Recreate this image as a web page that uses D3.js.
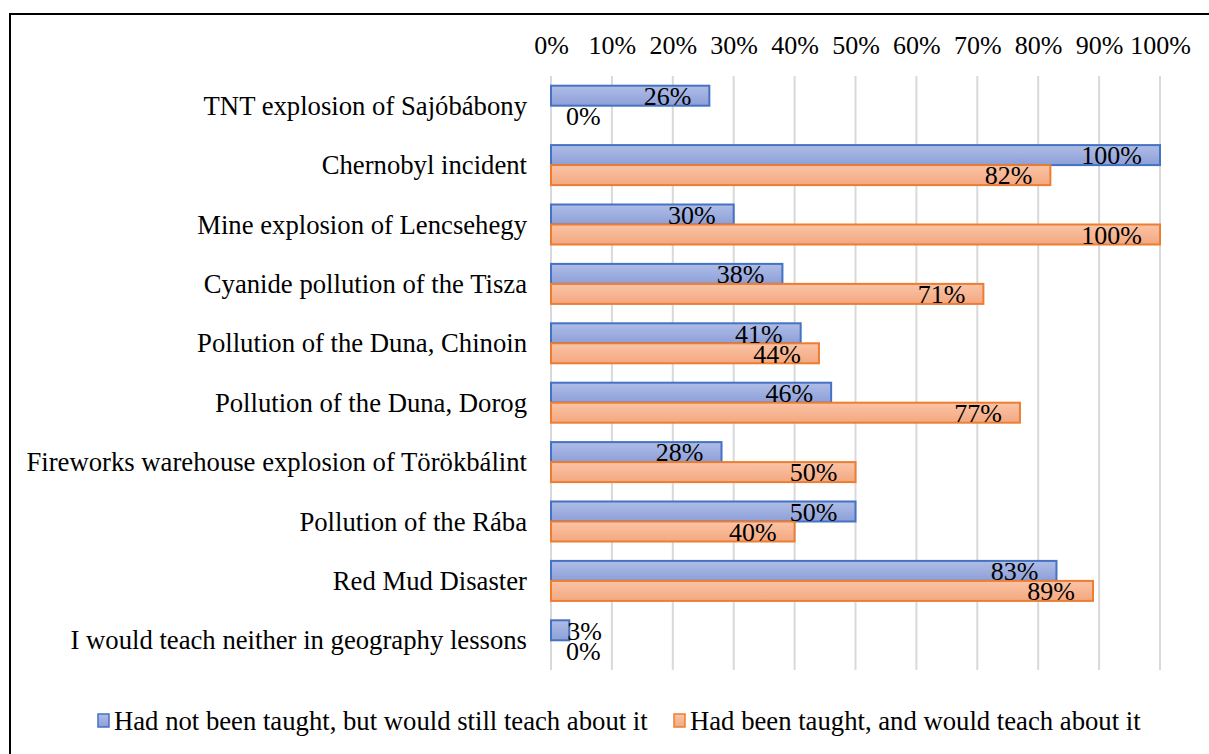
<!DOCTYPE html>
<html>
<head>
<meta charset="utf-8">
<script src="https://cdn.jsdelivr.net/npm/d3@7"></script>
<style>
  body { margin: 0; background: #fff; }
</style>
</head>
<body>
<script>
'use strict';

// chart data
const categories = [
  "TNT explosion of Sajóbábony",
  "Chernobyl incident",
  "Mine explosion of Lencsehegy",
  "Cyanide pollution of the Tisza",
  "Pollution of the Duna, Chinoin",
  "Pollution of the Duna, Dorog",
  "Fireworks warehouse explosion of Törökbálint",
  "Pollution of the Rába",
  "Red Mud Disaster",
  "I would teach neither in geography lessons"
];
const notTaught = [26, 100, 30, 38, 41, 46, 28, 50, 83, 3];
const taught = [0, 82, 100, 71, 44, 77, 50, 40, 89, 0];
const seriesNames = [
  "Had not been taught, but would still teach about it",
  "Had been taught, and would teach about it"
];
const ticks = [0, 10, 20, 30, 40, 50, 60, 70, 80, 90, 100];

const W = 1209, H = 754;
const FONT = 'Liberation Serif';
const FS = 26;      // ticks and value labels
const FS_CAT = 26.7; // category and legend text

const svg = d3.select('body').append('svg')
  .attr('width', W)
  .attr('height', H);

// gradients for bar fills
const defs = svg.append('defs');
function grad(id, top, bottom) {
  let g = defs.append('linearGradient').attr('id', id)
    .attr('x1', 0).attr('y1', 0).attr('x2', 0).attr('y2', 1);
  g.append('stop').attr('offset', '0%').attr('stop-color', top);
  g.append('stop').attr('offset', '100%').attr('stop-color', bottom);
}
grad('gBlue', '#afbde6', '#8d9fd8');
grad('gOrange', '#fbc4a6', '#f3a880');

const colors = [
  { fill: 'url(#gBlue)', stroke: '#4472c4' },
  { fill: 'url(#gOrange)', stroke: '#ed7d31' }
];

// outer frame (only left and top show in the picture)
svg.append('rect')
  .attr('x', 10).attr('y', 14)
  .attr('width', W).attr('height', H)
  .attr('fill', 'none')
  .attr('stroke', '#000')
  .attr('stroke-width', 2);

const x = d3.scaleLinear().domain([0, 100]).range([551, 1160]);
const y = d3.scaleBand().domain(categories).range([76, 670]);
const barH = 20;

// gridlines
svg.append('g').selectAll('line')
  .data(ticks)
  .enter().append('line')
  .attr('x1', d => x(d)).attr('x2', d => x(d))
  .attr('y1', 76).attr('y2', 670)
  .attr('stroke', '#d9d9d9')
  .attr('stroke-width', 2);

// top axis labels
const axis = d3.axisTop(x).tickValues(ticks).tickFormat(d => d + '%').tickSize(0);
const ax = svg.append('g')
  .attr('transform', 'translate(0,54)')
  .call(axis);
ax.select('.domain').remove();
ax.attr('font-family', FONT).attr('font-size', FS);
ax.selectAll('text')
  .attr('y', 0).attr('dy', 0)
  .attr('fill', '#000');

// category labels
svg.append('g').selectAll('text')
  .data(categories)
  .enter().append('text')
  .attr('x', 527)
  .attr('y', d => y(d) + y.bandwidth() / 2)
  .attr('dy', '0.34em')
  .attr('text-anchor', 'end')
  .attr('font-family', FONT)
  .attr('font-size', FS_CAT)
  .text(d => d);

// bars
const series = [notTaught, taught];
series.forEach((vals, s) => {
  svg.append('g').selectAll('rect')
    .data(vals)
    .enter().append('rect')
    .attr('x', x(0))
    .attr('y', (d, i) => y(categories[i]) + y.bandwidth() / 2 - barH + s * barH)
    .attr('width', d => x(d) - x(0))
    .attr('height', barH)
    .attr('fill', colors[s].fill)
    .attr('stroke', d => d > 0 ? colors[s].stroke : 'none')
    .attr('stroke-width', 2);
});

// value labels: inside end (with Excel-like padding) when they fit,
// otherwise just past the start of the axis
const pad = 18;
series.forEach((vals, s) => {
  svg.append('g').selectAll('text')
    .data(vals)
    .enter().append('text')
    .attr('y', (d, i) => y(categories[i]) + y.bandwidth() / 2 - barH / 2 + s * barH)
    .attr('dy', '0.36em')
    .attr('font-family', FONT)
    .attr('font-size', FS)
    .text(d => d + '%')
    .each(function(d) {
      let w = this.getComputedTextLength();
      let t = d3.select(this);
      if (x(d) - x(0) > w + pad + 2) {
        t.attr('x', x(d) - pad).attr('text-anchor', 'end');
      } else {
        t.attr('x', Math.max(x(0) + 15, x(d) - 2)).attr('text-anchor', 'start');
      }
    });
});

// legend
const legend = svg.append('g');
const legendX = [98, 674];
seriesNames.forEach((name, s) => {
  legend.append('rect')
    .attr('x', legendX[s]).attr('y', 714)
    .attr('width', 11).attr('height', 13)
    .attr('fill', colors[s].fill)
    .attr('stroke', colors[s].stroke)
    .attr('stroke-width', 1.5);
  legend.append('text')
    .attr('x', legendX[s] + 16).attr('y', 730)
    .attr('font-family', FONT)
    .attr('font-size', FS_CAT)
    .text(name);
});
</script>
</body>
</html>
